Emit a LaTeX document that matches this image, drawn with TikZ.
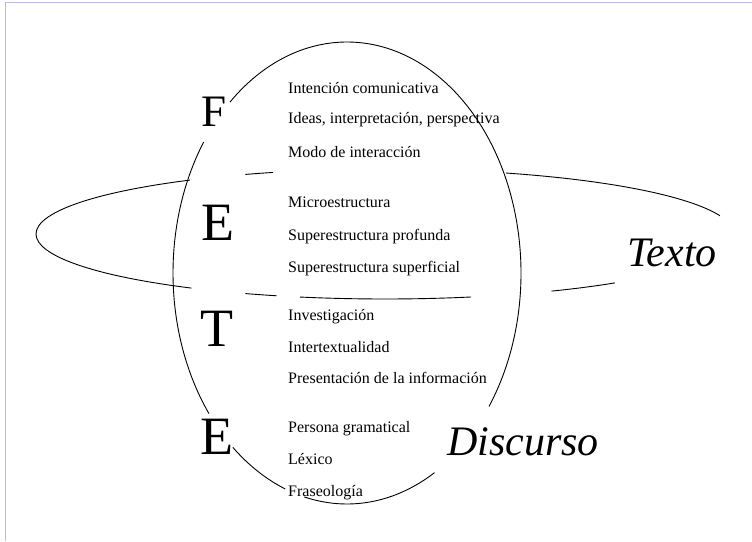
\documentclass[tikz,border=0pt]{standalone}
\usepackage{fontspec}
\setmainfont{Liberation Serif}
\definecolor{frameline}{RGB}{184,184,226}
\tikzset{
  itemtext/.style={anchor=base west, inner sep=0pt, font=\fontsize{16}{18}\selectfont},
  bigletter/.style={anchor=base west, inner sep=0pt, font=\fontsize{54}{58}\selectfont},
  smallbig/.style={anchor=base west, inner sep=0pt, font=\fontsize{45}{48}\selectfont},
  bigword/.style={anchor=base west, inner sep=0pt, font=\fontsize{42}{46}\selectfont\itshape},
  curve/.style={line width=0.9pt, black},
}
\begin{document}
\begin{tikzpicture}[x=1pt,y=1pt]
\useasboundingbox (0,0) rectangle (752,541);
% frame
\coordinate (fTL) at (5.3,538.3);
\coordinate (fTR) at (752,538.3);
\coordinate (fBL) at (5.3,0);
\draw[frameline, line width=1.4pt] (fTR) -- (fTL) -- (fBL);
% centres
\coordinate (P) at (347,268);
\coordinate (R) at (385,307);
% big ellipse segments
\draw[curve] ([shift={(-35.3:174pt and 231pt)}]P) arc[start angle=-35.3, end angle=132.3, x radius=174pt, y radius=231pt];
\draw[curve] ([shift={(145.5:174pt and 231pt)}]P) arc[start angle=145.5, end angle=217.5, x radius=174pt, y radius=231pt];
\draw[curve] ([shift={(229:174pt and 231pt)}]P) arc[start angle=229, end angle=249.2, x radius=174pt, y radius=231pt];
\draw[curve] ([shift={(255.8:174pt and 231pt)}]P) arc[start angle=255.8, end angle=300.2, x radius=174pt, y radius=231pt];
% ring segments
\draw[curve] ([shift={(124:349pt and 65pt)}]R) arc[start angle=124, end angle=236.3, x radius=349pt, y radius=65pt];
\draw[curve] ([shift={(108.7:349pt and 65pt)}]R) arc[start angle=108.7, end angle=113.6, x radius=349pt, y radius=65pt];
\draw[curve] ([shift={(16.3:349pt and 65pt)}]R) arc[start angle=16.3, end angle=69.7, x radius=349pt, y radius=65pt];
\draw[curve] ([shift={(246.4:349pt and 65pt)}]R) arc[start angle=246.4, end angle=251.9, x radius=349pt, y radius=65pt];
\draw[curve] ([shift={(255.9:349pt and 65pt)}]R) arc[start angle=255.9, end angle=284.3, x radius=349pt, y radius=65pt];
\draw[curve] ([shift={(298.5:349pt and 65pt)}]R) arc[start angle=298.5, end angle=311.2, x radius=349pt, y radius=65pt];
% big letters
\node[smallbig]  (F)  at (201,414.3) {F};
\node[bigletter] (E1) at (201,300.3) {E};
\node[bigletter] (T)  at (200,194.3) {T};
\node[bigletter] (E2) at (200,87) {E};
% items
\node[itemtext] (i1)  at (288,447.7) {Intención comunicativa};
\node[itemtext] (i2)  at (288,417)   {Ideas, interpretación, perspectiva};
\node[itemtext] (i3)  at (288,383.5) {Modo de interacción};
\node[itemtext] (i4)  at (288,333.7) {Microestructura};
\node[itemtext] (i5)  at (288,300.5) {Superestructura profunda};
\node[itemtext] (i6)  at (288,268.3) {Superestructura superficial};
\node[itemtext] (i7)  at (288,220.3) {Investigación};
\node[itemtext] (i8)  at (288,188.7) {Intertextualidad};
\node[itemtext] (i9)  at (288,157)   {Presentación de la información};
\node[itemtext] (i10) at (288,109)   {Persona gramatical};
\node[itemtext] (i11) at (288,77)    {Léxico};
\node[itemtext] (i12) at (288,44.5)  {Fraseología};
% labels
\node[bigword] (texto) at (627,274.3) {Texto};
\node[bigword] (disc)  at (447,86)    {Discurso};
\end{tikzpicture}
\end{document}
